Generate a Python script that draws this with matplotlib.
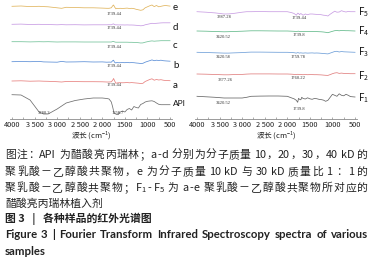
import re
import matplotlib
matplotlib.use('Agg')
import matplotlib.pyplot as plt
from matplotlib.ticker import MultipleLocator, FixedLocator, FixedFormatter

# ---------------- data ----------------
WN = [4000, 3800, 3600, 3400, 3300, 3200, 3000, 2900, 2800, 2600,
      2400, 2200, 2000, 1900, 1850, 1800, 1770, 1750, 1730, 1700,
      1680, 1650, 1600, 1550, 1500, 1450, 1400, 1350, 1300, 1250,
      1200, 1150, 1100, 1050, 1000, 950, 900, 850, 800, 750,
      700, 650, 600, 500]

API = [0.3, 0, -5, -17, -19, -19, -14, -11, -8, -5.5,
       -4, -3, -3, -3.5, -4, -7, -12, -16, -18.5, -19,
       -19.5, -19.7, -17, -16, -17, -14.5, -13.5, -15, -11.5, -12.5,
       -13, -9.5, -8.5, -7, -6.3, -6, -5.8, -6.5, -8, -9.3,
       -9.7, -9.7, -9.7, -9.7]
PLGA_a = [0, 0.2, -0.2, 0, -0.2, -0.3, -0.7, -1, -0.5, -0.6,
          -0.7, -0.7, -0.8, -1, -1, -0.8, 0.8, 2.5, 0.5, -2.3,
          -2, -1.8, -1.7, -1.8, -1.7, -1.5, -1.8, -1.6, -1.8, -2,
          -2.2, -2.5, -2.3, -0.5, 0.5, 1.5, 2.2, 0.8, 1.5, 1,
          1.3, 0.8, 0.5, 0.3]
PLGA_b = [0, 0.2, 0, 0.3, -0.2, -0.3, -0.5, 0.3, -0.3, -0.2,
          0, -0.3, -0.2, -0.5, -0.4, -0.5, 1, 1.5, -0.5, -1.3,
          -0.8, -1, -1, -0.8, -1, -0.7, -1, -0.9, -1, -1.3,
          -1.5, -1.8, -1.6, -0.5, 0.3, 1, 1.8, 1, 1.5, 1.2,
          1.5, 1, 0.8, 0.5]
PLGA_c = [0, 0, -0.2, 0, -0.1, 0, -0.3, -0.2, -0.2, -0.2,
          -0.3, -0.3, -0.3, -0.3, -0.3, -0.3, 0.2, 0.3, -0.2, -0.5,
          -0.5, -0.5, -0.5, -0.5, -0.5, -0.5, -0.6, -0.6, -0.7, -0.8,
          -1, -1.3, -1.2, -0.5, 0, 0.5, 0.8, 0.5, 0.7, 0.8,
          1, 1, 1, 1]
PLGA_d = [0, 0.2, -0.2, 0, -0.3, -0.2, -0.5, -0.3, -0.5, -0.4,
          -0.6, -0.5, -0.5, -0.5, -0.4, -0.5, 0.2, 0.4, -0.3, -0.6,
          -0.5, -0.6, -0.6, -0.6, -0.7, -0.6, -0.7, -0.7, -0.8, -1,
          -1.2, -1.5, -1.3, -0.5, 0, 0.5, 1, 0.8, 1, 1.2,
          1.4, 1.5, 1.5, 1.5]
PLGA_e = [0, 0.3, -0.3, 0, -0.3, -0.5, -1.5, -2, -1, -1.2,
          -1.5, -1.5, -1.8, -2, -2, -1.5, 0.5, 1.3, -0.5, -2.5,
          -2, -2.2, -2, -2.2, -2, -1.8, -2.2, -2, -2.3, -3,
          -3.5, -4, -3.5, -1.5, -0.5, 0.5, 1.3, -0.3, 0.8, -0.5,
          0, 0.5, 0.8, 0.2]

F1 = [0, -0.5, -1, -1.7, -1.7, -1.7, -1.7, -1, 0, 0.2,
      0.3, 0.3, 0, -1.7, -2.5, -4, -6, -2, -3, -3.5,
      -1, -2.2, -2.7, -1.5, -2.5, -3, -2.2, -2.4, -3, -3.3,
      -3.8, -5, -4, -1, 2, 1, 0, 2.5, 1, 0.5,
      2, 1, -0.3, -0.7]
F2 = [0, -0.2, -0.5, -0.8, -0.8, -0.6, -0.4, -0.1, 0.1, 0.1,
      0.1, 0, 0, -0.2, -0.4, -0.6, -0.3, -0.4, -0.6, -0.4,
      -0.6, -0.7, -0.5, -0.7, -0.6, -0.6, -0.7, -0.7, -0.8, -0.9,
      -1.1, -1.3, -1.4, -0.6, 0.3, 1, 1.3, 0.6, 0.9, 0.6,
      0.5, 0.4, 0.3, 0.3]
F3 = [0, -0.2, -0.5, -0.8, -0.8, -0.6, -0.3, 0, 0.2, 0.2,
      0.1, 0, 0, -0.2, -0.4, -0.8, -0.3, -0.5, -0.8, -0.5,
      -0.7, -0.8, -0.6, -0.8, -0.7, -0.6, -0.8, -0.7, -0.8, -1,
      -1.2, -1.4, -1.6, -0.8, 0, 0.8, 1, 0.3, 0.8, 0.5,
      0.4, 0.3, 0.2, 0]
F4 = [0, -0.2, -0.5, -0.8, -0.7, -0.5, -0.2, 0, 0.2, 0.2,
      0.1, 0, 0, -0.2, -0.3, -0.5, -0.3, -0.2, -0.5, -0.4,
      -0.5, -0.6, -0.5, -0.6, -0.6, -0.5, -0.6, -0.6, -0.7, -0.8,
      -1, -1.3, -1.7, -1, -0.3, 0.3, 0.5, 0.2, 0.6, 0.4,
      0.3, 0.3, 0.2, 0]
F5 = [0, -0.5, -1.2, -2.3, -2.2, -1.8, -0.5, 0, 0, 0.2,
      0, 0, 0, -1, -1.8, -3.5, -1.5, -1.7, -3, -1.8,
      -2.5, -3.5, -2.3, -3, -2.3, -2.3, -2.5, -2.7, -2.7, -3,
      -3.5, -3.7, -4.3, -2.5, -1, 0.5, -0.5, -0.3, 1, 0.2,
      -0.3, 0.3, 0, 0]

LEFT_NAMES = ['e', 'd', 'c', 'b', 'a', 'API']
RIGHT_NAMES = ['5', '4', '3', '2', '1']

LEFT_PEAKS = [('1739.44', 1739.44), ('1739.44', 1739.44), ('1739.44', 1739.44),
              ('1739.44', 1739.44), ('1739.44', 1739.44)]
API_PEAKS = [('3280.3', 3280.3), ('1658.7', 1658.7)]
RIGHT_PEAKS = [[('3387.28', 3387.28), ('1739.44', 1739.44)],
               [('3420.52', 3420.52), ('1739.8', 1739.8)],
               [('3420.58', 3420.58), ('1759.78', 1759.78)],
               [('3377.26', 3377.26), ('1760.22', 1760.22)],
               [('3420.52', 3420.52), ('1739.8', 1739.8)]]

TICKS = [4000, 3500, 3000, 2500, 2000, 1500, 1000, 500]
TICK_LABELS = ['4000', '3 500', '3 000', '2 500', '2 000', '1500', '1000', '500']

CAPTION = [
    '图注：API 为醋酸亮丙瑞林；a-d 分别为分子质量 10，20，30，40 kD 的',
    '聚乳酸－乙醇酸共聚物，e 为分子质量 10 kD 与 30 kD 质量比 1 ：1 的',
    '聚乳酸－乙醇酸共聚物；$\\mathregular{F_1}$-$\\mathregular{F_5}$ 为 a-e 聚乳酸－乙醇酸共聚物所对应的',
    '醋酸亮丙瑞林植入剂',
]
TITLE_CN = '图 3   |   各种样品的红外光谱图'
TITLE_EN = ['Figure 3  |  Fourier Transform Infrared Spectroscopy spectra of various',
            'samples']

# ---------------- layout ----------------
W, H = 373, 263
plt.rcParams['font.family'] = ['Noto Sans CJK SC', 'DejaVu Sans']
plt.rcParams['mathtext.fontset'] = 'custom'
plt.rcParams['mathtext.rm'] = 'Noto Sans CJK SC'

fig = plt.figure(figsize=(W / 100, H / 100), dpi=100)
fig.patch.set_facecolor('white')
renderer = fig.canvas.get_renderer()

AX_BOTTOM = 119  # px from top
left_colors = ['#e0b45c', '#c79be3', '#74c29a', '#5b8ed6', '#e7807e', '#6e6e6e']
right_colors = ['#c99ee3', '#62b98a', '#6f9fd8', '#e07f7f', '#666666']
left_base = [6.3, 24.3, 41.7, 61.7, 81, 95]
right_base = [11.7, 31, 52.3, 74, 96.3]
left_series = [PLGA_e, PLGA_d, PLGA_c, PLGA_b, PLGA_a, API]
right_series = [F5, F4, F3, F2, F1]


def make_ax(x0, x1):
    ax = fig.add_axes([x0 / W, 1 - AX_BOTTOM / H, (x1 - x0) / W, AX_BOTTOM / H])
    ax.set_xlim(4044, 456)
    ax.set_ylim(0, AX_BOTTOM)
    for s in ['top', 'right', 'left']:
        ax.spines[s].set_visible(False)
    ax.spines['bottom'].set_color('#8a8a8a')
    ax.spines['bottom'].set_linewidth(0.6)
    ax.set_yticks([])
    ax.xaxis.set_major_locator(FixedLocator(TICKS))
    ax.xaxis.set_major_formatter(FixedFormatter(TICK_LABELS))
    ax.xaxis.set_minor_locator(MultipleLocator(250))
    ax.tick_params(axis='x', which='both', direction='in', length=1.8,
                   width=0.5, color='#8a8a8a', labelsize=5.3, pad=1.2,
                   labelcolor='#222222')
    ax.set_xlabel('波长 (cm$^{-1}$)', fontsize=5.5, labelpad=0.5, color='#222222')
    ax.patch.set_alpha(0)
    return ax


def ypx(p):
    return AX_BOTTOM - p


axL = make_ax(10, 172)
axR = make_ax(195, 357)

for vals, base, col in zip(left_series, left_base, left_colors):
    axL.plot(WN, [ypx(base) + v for v in vals], color=col, lw=0.55)
for vals, base, col in zip(right_series, right_base, right_colors):
    axR.plot(WN, [ypx(base) + v for v in vals], color=col, lw=0.55)

pk_kw = dict(fontsize=3.3, family='Liberation Serif', ha='center', va='center',
             color='#333333')
left_label_y = [14, 28.3, 46.7, 66, 85.3]
for (txt, wn), yy in zip(LEFT_PEAKS, left_label_y):
    axL.text(wn, ypx(yy), txt, **pk_kw)
for (txt, wn) in API_PEAKS:
    axL.text(wn, ypx(113), txt, **pk_kw)
right_label_y = [(17, 18), (36.5, 35), (57, 57), (80, 78), (103, 109)]
for pks, yys in zip(RIGHT_PEAKS, right_label_y):
    for (txt, wn), yy in zip(pks, yys):
        axR.text(wn, ypx(yy), txt, **pk_kw)

# series names
name_y = [8, 27, 46, 66, 85, 104]
for nm, yy in zip(LEFT_NAMES, name_y):
    fig.text(173 / W, 1 - yy / H, nm, fontsize=7 if nm != 'API' else 6,
             family='Lato', ha='left', va='center', color='#111111')
rname_y = [12, 31, 52.5, 76, 98]
for nm, yy in zip(RIGHT_NAMES, rname_y):
    fig.text(358 / W, 1 - yy / H, 'F$_{' + nm + '}$', fontsize=7,
             ha='left', va='center', color='#111111')


# ---------------- caption (justified lines) ----------------
def justify(line, y, x0, x1, words=False, **kw):
    """Place a line of text so that it spans x0..x1 pixels."""
    if words:
        toks = line.split()
        spaced = [False] + [True] * (len(toks) - 1)
    else:
        parts = re.findall(r'\$[^$]*\$|[A-Za-z0-9.]+| +|\S', line)
        toks, spaced, pending = [], [], False
        for p in parts:
            if p.strip() == '':
                pending = True
                continue
            toks.append(p)
            spaced.append(pending and len(toks) > 1)
            pending = False
    objs, widths = [], []
    for t in toks:
        o = fig.text(0, 1 - y / H, t, ha='left', va='center', **kw)
        objs.append(o)
        widths.append(o.get_window_extent(renderer).width)
    probe = fig.text(0, 0, 'a a', **kw)
    probe2 = fig.text(0, 0, 'aa', **kw)
    sp = probe.get_window_extent(renderer).width - probe2.get_window_extent(renderer).width
    probe.remove()
    probe2.remove()
    base = sum(widths) + sp * sum(spaced[1:])
    n = len(objs) - 1
    extra = (x1 - x0 - base) / n if n > 0 else 0
    x = x0
    for i, o in enumerate(objs):
        if i > 0:
            x += extra + (sp if spaced[i] else 0)
        o.set_x(x / W)
        x += widths[i]


cap_kw = dict(fontsize=7.8, color='#222222')
cap_y = [155, 171.7, 188, 203.3]
for i, (line, yy) in enumerate(zip(CAPTION, cap_y)):
    if i < 3:
        justify(line, yy, 5, 368, **cap_kw)
    else:
        fig.text(5 / W, 1 - yy / H, line, ha='left', va='center', **cap_kw)
fig.text(5 / W, 1 - 219 / H, TITLE_CN, fontsize=7.8, ha='left', va='center',
         color='#222222', weight='bold')
en_kw = dict(fontsize=8.2, color='#222222', weight='bold', family='Lato')
justify(TITLE_EN[0], 235, 5, 368, words=True, **en_kw)
fig.text(5 / W, 1 - 251.7 / H, TITLE_EN[1], ha='left', va='center', **en_kw)

fig.savefig('out.png', dpi=100, facecolor='white')
